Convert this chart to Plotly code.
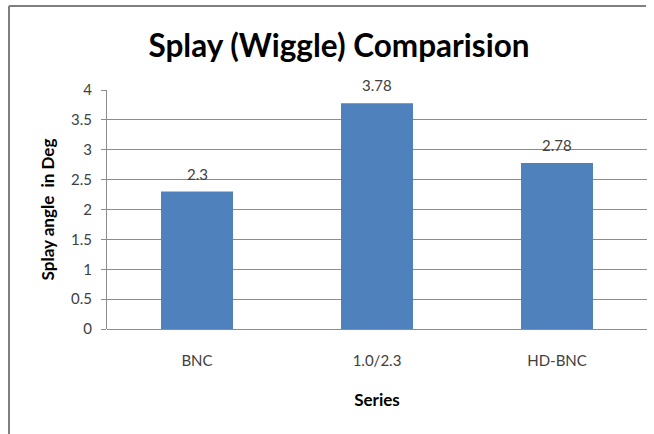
import plotly.graph_objects as go

categories = ["BNC", "1.0/2.3", "HD-BNC"]
values = [2.3, 3.78, 2.78]
value_labels = ["2.3", "3.78", "2.78"]
y_ticks = [0, 0.5, 1, 1.5, 2, 2.5, 3, 3.5, 4]
y_tick_labels = ["0", "0.5", "1", "1.5", "2", "2.5", "3", "3.5", "4"]

FONT = "Lato"
W, H = 654, 434
L, R, T, B = 107, 7, 90, 105
PW, PH = W - L - R, H - T - B

fig = go.Figure(go.Bar(
    x=categories, y=values,
    marker=dict(color="#4F81BD", line=dict(width=0)),
    width=0.4,
))

# value labels placed at each bar top through the data axes
for c, v, lab in zip(categories, values, value_labels):
    fig.add_annotation(x=c, y=v, text=lab, showarrow=False, xref="x", yref="y",
                       yanchor="bottom", yshift=7,
                       font=dict(family=FONT, size=15, color="#404040"))

fig.update_layout(
    width=W, height=H,
    margin=dict(l=L, r=R, t=T, b=B, autoexpand=False),
    paper_bgcolor="white", plot_bgcolor="white",
    showlegend=False,
    title=dict(text="<b>Splay (Wiggle) Comparision</b>", x=339/W, xanchor="center",
               y=1 - 46/H, yanchor="middle", xref="container", yref="container",
               font=dict(family=FONT, size=31.5, color="#000000")),
    font=dict(family=FONT, color="#404040", size=15),
)
fig.update_xaxes(
    automargin=False,
    title=dict(text="<b>Series</b>", font=dict(family=FONT, size=17, color="#000000"), standoff=26),
    showgrid=False, showline=False, ticks="", ticklen=0,
    ticklabelstandoff=21,
    tickfont=dict(family=FONT, size=15, color="#404040"),
)
fig.update_yaxes(
    automargin=False,
    range=[0, 4], tickvals=y_ticks, ticktext=y_tick_labels,
    showgrid=True, gridcolor="#8c8c8c", gridwidth=1,
    showline=True, linecolor="#8c8c8c", linewidth=1,
    ticks="outside", ticklen=5, tickcolor="#8c8c8c",
    ticklabelstandoff=6,
    tickfont=dict(family=FONT, size=15, color="#404040"),
    zeroline=True, zerolinecolor="#8c8c8c", zerolinewidth=1,
    title=dict(text="<b>Splay angle&nbsp; in Deg</b>", font=dict(family=FONT, size=17, color="#000000"), standoff=12),
)
# outer chart border (top and left edges visible in the reference)
bx = (9 - L) / PW
by = 1 + (T - 6) / PH
fig.add_shape(type="line", xref="paper", yref="paper", x0=bx, x1=(646 - L) / PW, y0=by, y1=by,
              line=dict(color="#7f7f7f", width=2))
fig.add_shape(type="line", xref="paper", yref="paper", x0=bx, x1=bx, y0=by, y1=-B / PH,
              line=dict(color="#7f7f7f", width=2))

fig.write_html("out.html", config={"displayModeBar": False},
               post_script="document.body.style.margin='0';document.body.style.overflow='hidden';")
